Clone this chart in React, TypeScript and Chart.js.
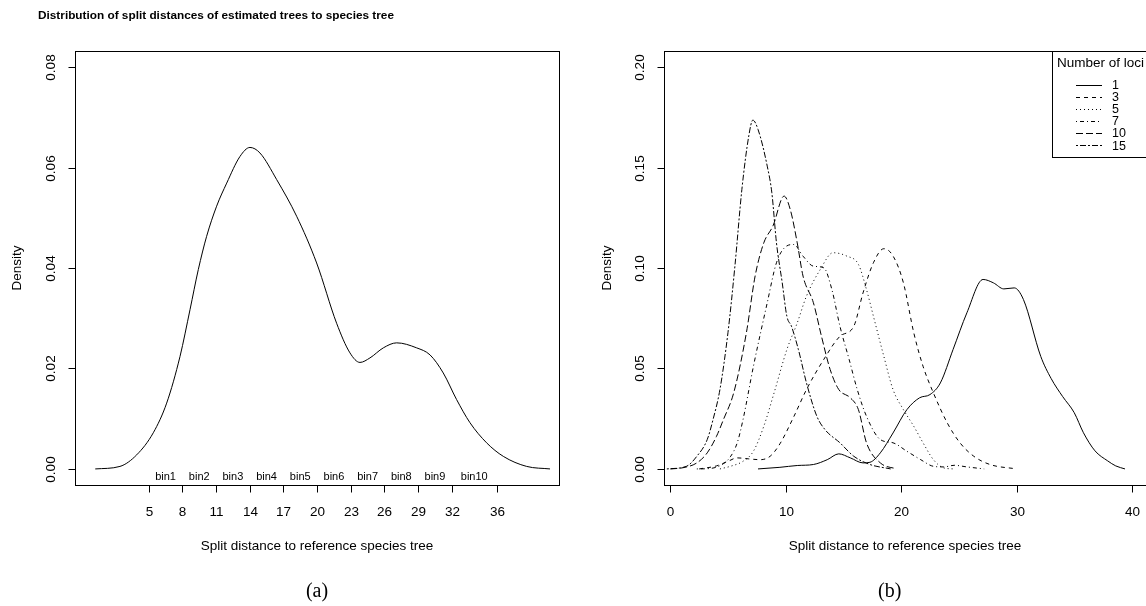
import React, { useEffect, useRef } from 'react';
import { Chart, registerables } from 'chart.js';

Chart.register(...registerables);

// ---------- texts ----------
const mainTitle = 'Distribution of split distances of estimated trees to species tree';
const xAxisTitle = 'Split distance to reference species tree';
const yAxisTitle = 'Density';
const captionA = '(a)';
const captionB = '(b)';
const legendTitle = 'Number of loci';

// ---------- panel (a) ----------
const densityX = [0.24, 2.44, 3.93, 5.41, 6.6, 7.79, 8.68, 9.42, 10.16, 11.05, 11.95, 13.13, 14.02, 14.91, 16.4, 18.18, 19.96, 21.74, 22.93, 23.82, 24.71, 25.9, 27.09, 28.87, 30.06, 31.24, 32.43, 33.62, 35.1, 36.59, 38.67, 40.75];
const densityY = [0, 0.0005, 0.0028, 0.0072, 0.0131, 0.0224, 0.0317, 0.0397, 0.0463, 0.0523, 0.0569, 0.0622, 0.064, 0.0629, 0.0576, 0.0503, 0.041, 0.029, 0.0231, 0.0212, 0.0221, 0.0241, 0.0251, 0.0241, 0.0227, 0.0191, 0.0138, 0.0092, 0.0052, 0.0025, 0.0005, 0];
const binEdges = [5, 8, 11, 14, 17, 20, 23, 26, 29, 32, 36];
const binLabels = ['bin1', 'bin2', 'bin3', 'bin4', 'bin5', 'bin6', 'bin7', 'bin8', 'bin9', 'bin10'];
const leftYTicks = [0, 0.02, 0.04, 0.06, 0.08];
const leftYTickLabels = ['0.00', '0.02', '0.04', '0.06', '0.08'];

// ---------- panel (b) ----------
const lociLabels = ['1', '3', '5', '7', '10', '15'];
const loci1X = [7.6, 9.5, 11.0, 12.4, 13.6, 14.6, 15.6, 16.7, 17.3, 18.2, 19.3, 20.5, 21.6, 22.5, 23.4, 24.5, 25.7, 27.1, 28.0, 28.9, 29.8, 30.6, 32.1, 33.0, 34.0, 35.0, 35.8, 36.8, 37.9, 38.6, 39.4];
const loci1Y = [0, 0.0008, 0.0017, 0.0022, 0.0046, 0.0075, 0.0055, 0.003, 0.0033, 0.008, 0.0179, 0.0295, 0.0354, 0.037, 0.0428, 0.0594, 0.0777, 0.0943, 0.0926, 0.0896, 0.0901, 0.0843, 0.056, 0.045, 0.036, 0.028, 0.018, 0.009, 0.004, 0.0015, 0];
const loci3X = [2.5, 4.0, 5.0, 5.8, 6.8, 7.8, 8.65, 9.5, 10.7, 11.8, 13.3, 14.7, 15.9, 16.7, 17.6, 18.5, 19.3, 20.2, 21.1, 21.9, 22.8, 24.0, 25.1, 26.3, 27.7, 30.0];
const loci3Y = [0, 0.0015, 0.0038, 0.0055, 0.005, 0.0046, 0.0063, 0.0125, 0.026, 0.0395, 0.0545, 0.066, 0.071, 0.0876, 0.1026, 0.1096, 0.106, 0.0926, 0.0677, 0.0511, 0.0378, 0.0229, 0.013, 0.0063, 0.0022, 0];
const loci5X = [4.3, 5.2, 6.3, 7.2, 8.1, 9.0, 10.1, 11.0, 11.8, 13.0, 14.1, 15.3, 16.3, 17.0, 17.6, 18.5, 19.3, 20.2, 21.1, 21.9, 22.8, 23.7, 24.6];
const loci5Y = [0, 0.0013, 0.0038, 0.0088, 0.0212, 0.038, 0.0594, 0.0727, 0.086, 0.0993, 0.1076, 0.1059, 0.1018, 0.0893, 0.076, 0.0561, 0.0395, 0.0295, 0.0212, 0.013, 0.0046, 0.0005, 0];
const loci7X = [2.3, 3.4, 4.3, 5.2, 5.8, 6.3, 7.2, 8.4, 9.2, 10.1, 10.7, 11.5, 12.4, 13.3, 14.0, 14.7, 15.5, 16.2, 17.0, 18.2, 19.3, 20.5, 21.7, 22.8, 23.7, 24.6, 25.7, 27.2];
const loci7Y = [0, 0.0002, 0.0016, 0.006, 0.013, 0.0245, 0.051, 0.0827, 0.1026, 0.111, 0.1117, 0.1059, 0.1009, 0.1001, 0.0893, 0.071, 0.0544, 0.0395, 0.0262, 0.0146, 0.013, 0.0088, 0.0046, 0.0013, 0.001, 0.0018, 0.001, 0];
const loci10X = [0.0, 1.1, 2.3, 3.2, 4.0, 4.6, 5.5, 6.6, 7.35, 8.1, 8.9, 9.86, 10.4, 11.0, 11.5, 12.4, 13.1, 13.85, 14.6, 15.6, 16.3, 17.0, 18.2, 19.6];
const loci10Y = [0, 0.0006, 0.003, 0.008, 0.0162, 0.0245, 0.038, 0.068, 0.096, 0.1125, 0.121, 0.1358, 0.129, 0.1125, 0.096, 0.0827, 0.066, 0.0495, 0.0395, 0.0354, 0.0295, 0.013, 0.003, 0];
const loci15X = [-0.3, 1.4, 2.3, 3.2, 3.7, 4.3, 5.0, 5.6, 6.2, 6.8, 7.15, 7.6, 8.4, 8.8, 9.2, 9.7, 10.1, 10.5, 11.1, 11.8, 12.7, 13.4, 14.7, 15.9, 17.3, 19.1];
const loci15Y = [0, 0.0013, 0.0063, 0.0146, 0.0245, 0.0395, 0.068, 0.101, 0.139, 0.1657, 0.1736, 0.169, 0.1507, 0.1374, 0.1125, 0.0926, 0.076, 0.071, 0.0594, 0.0428, 0.0262, 0.0196, 0.013, 0.0063, 0.0022, 0];
const rightXTicks = [0, 10, 20, 30, 40];
const rightXTickLabels = ['0', '10', '20', '30', '40'];
const rightYTicks = [0, 0.05, 0.1, 0.15, 0.2];
const rightYTickLabels = ['0.00', '0.05', '0.10', '0.15', '0.20'];

// ---------- styles ----------
const SANS = '"Liberation Sans", Arial, Helvetica, sans-serif';
const SERIF = '"Liberation Serif", "Times New Roman", serif';
const lociDash: number[][] = [[], [4, 4], [1, 3], [1, 3, 4, 3], [7, 3], [2, 2, 6, 2]];
const TICK = 7;

const pts = (xs: number[], ys: number[]) => xs.map((x, i) => ({ x, y: ys[i] }));

function rotText(ctx: CanvasRenderingContext2D, text: string, x: number, y: number) {
  ctx.save();
  ctx.translate(x, y);
  ctx.rotate(-Math.PI / 2);
  ctx.textAlign = 'center';
  ctx.textBaseline = 'alphabetic';
  ctx.fillText(text, 0, 0);
  ctx.restore();
}

function baseOptions(pad: any, xr: [number, number], yr: [number, number]): any {
  return {
    responsive: false,
    animation: false,
    devicePixelRatio: 1,
    events: [],
    layout: { padding: pad },
    plugins: { legend: { display: false }, tooltip: { enabled: false }, title: { display: false } },
    elements: {
      point: { radius: 0 },
      line: { borderWidth: 1, borderColor: '#000', fill: false, cubicInterpolationMode: 'monotone' },
    },
    scales: {
      x: { type: 'linear', min: xr[0], max: xr[1], display: false, bounds: 'data' },
      y: { type: 'linear', min: yr[0], max: yr[1], display: false, bounds: 'data' },
    },
  };
}

function drawAxes(chart: any, xTicks: number[], xLabels: string[], yTicks: number[], yLabels: string[]) {
  const ctx: CanvasRenderingContext2D = chart.ctx;
  const a = chart.chartArea;
  const xs = chart.scales.x;
  const ys = chart.scales.y;
  ctx.save();
  ctx.strokeStyle = '#000';
  ctx.fillStyle = '#000';
  ctx.lineWidth = 1;
  ctx.setLineDash([]);
  ctx.strokeRect(a.left + 0.5, a.top + 0.5, a.right - a.left, a.bottom - a.top);
  // x axis
  const xp = xTicks.map((v) => Math.round(xs.getPixelForValue(v)) + 0.5);
  ctx.beginPath();
  ctx.moveTo(xp[0], a.bottom + 0.5);
  ctx.lineTo(xp[xp.length - 1], a.bottom + 0.5);
  xp.forEach((p) => {
    ctx.moveTo(p, a.bottom + 0.5);
    ctx.lineTo(p, a.bottom + 0.5 + TICK);
  });
  ctx.stroke();
  ctx.font = `13.5px ${SANS}`;
  ctx.textAlign = 'center';
  ctx.textBaseline = 'alphabetic';
  xp.forEach((p, i) => ctx.fillText(xLabels[i], p, a.bottom + 30.5));
  // y axis
  const yp = yTicks.map((v) => Math.round(ys.getPixelForValue(v)) + 0.5);
  ctx.beginPath();
  ctx.moveTo(a.left + 0.5, yp[0]);
  ctx.lineTo(a.left + 0.5, yp[yp.length - 1]);
  yp.forEach((p) => {
    ctx.moveTo(a.left + 0.5, p);
    ctx.lineTo(a.left + 0.5 - TICK, p);
  });
  ctx.stroke();
  yp.forEach((p, i) => rotText(ctx, yLabels[i], a.left - 20, p));
  // axis titles
  ctx.textAlign = 'center';
  ctx.fillText(xAxisTitle, (a.left + a.right) / 2, 549.5);
  ctx.restore();
}

export default function App() {
  const leftRef = useRef<HTMLCanvasElement>(null);
  const rightRef = useRef<HTMLCanvasElement>(null);

  useEffect(() => {
    const leftPlugin = {
      id: 'leftDecor',
      afterDraw(chart: any) {
        const ctx: CanvasRenderingContext2D = chart.ctx;
        const a = chart.chartArea;
        const xs = chart.scales.x;
        drawAxes(chart, binEdges, binEdges.map(String), leftYTicks, leftYTickLabels);
        ctx.save();
        ctx.fillStyle = '#000';
        // bin labels
        ctx.font = `11px ${SANS}`;
        ctx.textAlign = 'center';
        ctx.textBaseline = 'alphabetic';
        binLabels.forEach((lab, i) => {
          const mid = (binEdges[i] + binEdges[i + 1]) / 2;
          ctx.fillText(lab, xs.getPixelForValue(mid), a.bottom - 5);
        });
        // y title
        ctx.font = `13.5px ${SANS}`;
        rotText(ctx, yAxisTitle, 20.5, (a.top + a.bottom) / 2);
        // main title
        ctx.font = `bold 11.8px ${SANS}`;
        ctx.textAlign = 'left';
        ctx.fillText(mainTitle, 38, 19);
        // caption
        ctx.font = `20px ${SERIF}`;
        ctx.textAlign = 'center';
        ctx.fillText(captionA, (a.left + a.right) / 2, 597);
        ctx.restore();
      },
    };

    const rightPlugin = {
      id: 'rightDecor',
      afterDraw(chart: any) {
        const ctx: CanvasRenderingContext2D = chart.ctx;
        const a = chart.chartArea;
        drawAxes(chart, rightXTicks, rightXTickLabels, rightYTicks, rightYTickLabels);
        ctx.save();
        ctx.fillStyle = '#000';
        ctx.strokeStyle = '#000';
        ctx.lineWidth = 1;
        ctx.font = `13.5px ${SANS}`;
        rotText(ctx, yAxisTitle, 30.5, (a.top + a.bottom) / 2);
        ctx.font = `20px ${SERIF}`;
        ctx.textAlign = 'center';
        ctx.textBaseline = 'alphabetic';
        ctx.fillText(captionB, 309.7, 597);
        // legend
        const lx = 472;
        const ly = a.top;
        ctx.fillStyle = '#fff';
        ctx.fillRect(lx, ly, 200, 106);
        ctx.fillStyle = '#000';
        ctx.strokeRect(lx + 0.5, ly + 0.5, 200, 106);
        ctx.textAlign = 'left';
        ctx.font = `13.5px ${SANS}`;
        ctx.fillText(legendTitle, lx + 5, ly + 15.5);
        ctx.font = `12.5px ${SANS}`;
        lociLabels.forEach((lab, i) => {
          const yy = ly + 33.5 + i * 12.1;
          ctx.setLineDash(lociDash[i]);
          ctx.beginPath();
          ctx.moveTo(lx + 24, Math.round(yy) + 0.5);
          ctx.lineTo(lx + 50, Math.round(yy) + 0.5);
          ctx.stroke();
          ctx.setLineDash([]);
          ctx.fillText(lab, lx + 60, yy + 4.5);
        });
        ctx.restore();
      },
    };

    const leftCfg: any = {
      type: 'line',
      data: {
        datasets: [{ label: 'density', data: pts(densityX, densityY) }],
      },
      options: baseOptions({ left: 75, right: 21, top: 51, bottom: 121 }, [-1.565, 41.55], [-0.0032, 0.0832]),
      plugins: [leftPlugin],
    };

    const lociX = [loci1X, loci3X, loci5X, loci7X, loci10X, loci15X];
    const lociY = [loci1Y, loci3Y, loci5Y, loci7Y, loci10Y, loci15Y];
    const rightCfg: any = {
      type: 'line',
      data: {
        datasets: lociLabels.map((lab, i) => ({
          label: lab,
          data: pts(lociX[i], lociY[i]),
          borderDash: lociDash[i],
        })),
      },
      options: baseOptions({ left: 84, right: 0, top: 51, bottom: 121 }, [-0.546, 41.22], [-0.008, 0.208]),
      plugins: [rightPlugin],
    };

    const left = new Chart(leftRef.current as HTMLCanvasElement, leftCfg);
    const right = new Chart(rightRef.current as HTMLCanvasElement, rightCfg);
    return () => {
      left.destroy();
      right.destroy();
    };
  }, []);

  return (
    <div style={{ position: 'fixed', left: 0, top: 0, width: 1146, height: 606, overflow: 'hidden', background: '#fff' }}>
      <canvas ref={leftRef} width={580} height={606} style={{ position: 'absolute', left: 0, top: 0 }} />
      <canvas ref={rightRef} width={566} height={606} style={{ position: 'absolute', left: 580, top: 0 }} />
    </div>
  );
}
